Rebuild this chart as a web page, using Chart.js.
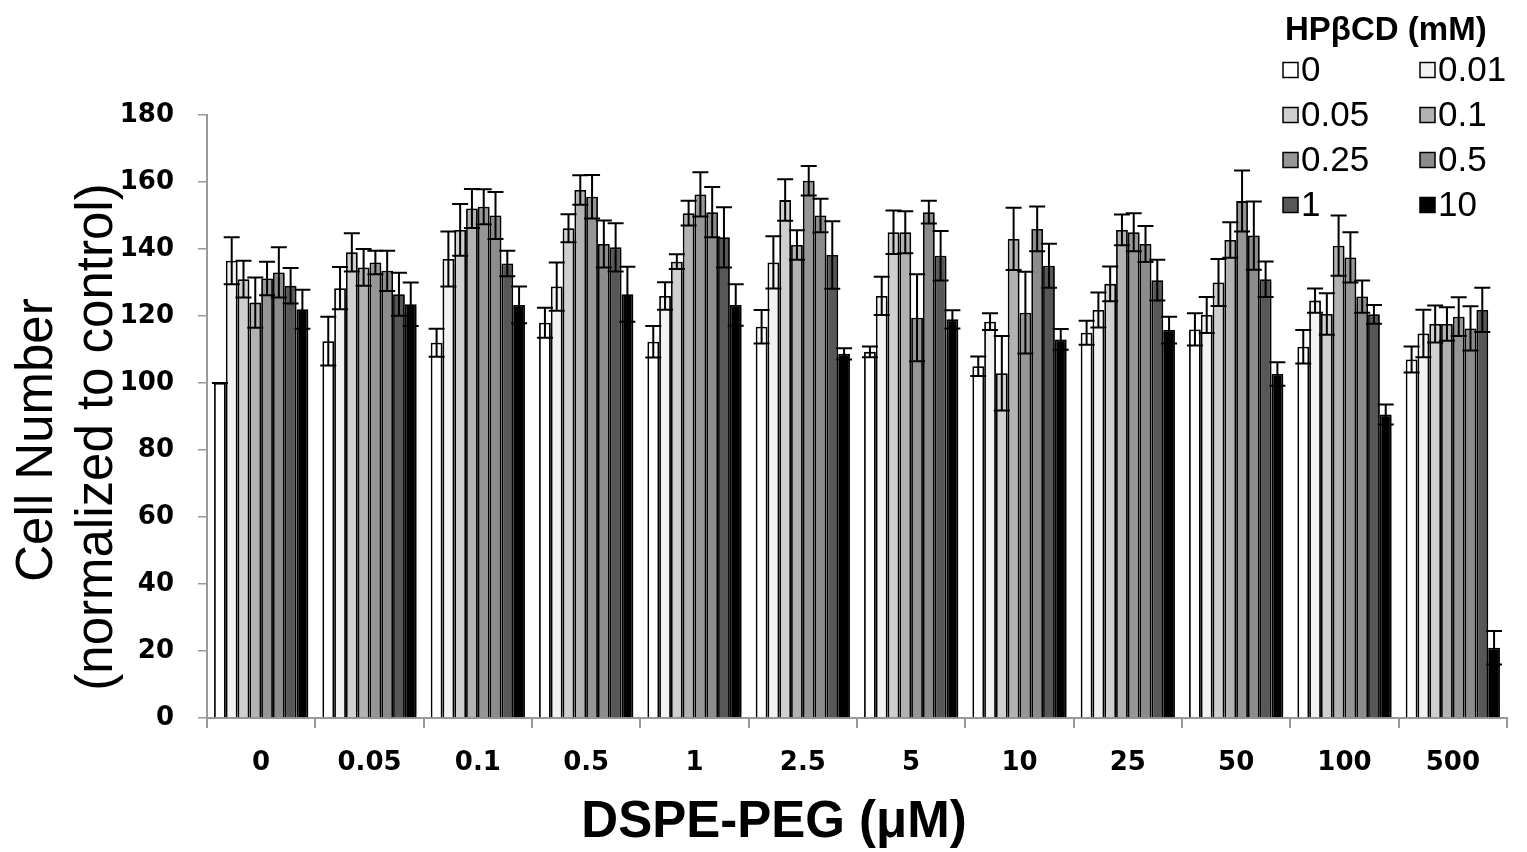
<!DOCTYPE html>
<html>
<head>
<meta charset="utf-8">
<script src="https://cdn.jsdelivr.net/npm/chart.js@4"></script>
<style>
html, body { margin: 0; padding: 0; background: #fff; }
#chart { display: block; }
</style>
</head>
<body>
<canvas id="chart" width="1527" height="852"></canvas>
<script>
// DSPE-PEG concentrations (uM)
const categories = ['0', '0.05', '0.1', '0.5', '1', '2.5', '5', '10', '25', '50', '100', '500'];
// HPbCD concentrations (mM)
const seriesLabels = ['0', '0.01', '0.05', '0.1', '0.25', '0.5', '1', '10'];
const seriesColors = ['#ffffff', '#f2f2f2', '#cfcfcf', '#b2b2b2', '#969696', '#8c8c8c', '#575757', '#000000'];

const hp0 = [100, 112.5, 112, 118, 112.3, 116.8, 109.3, 105, 115, 116, 110.8, 107];
const hp0Err = [0, 7.3, 4.2, 4.5, 4.7, 5, 1.6, 2.9, 3.6, 4.8, 5, 3.9];
const hp001 = [136.5, 128.3, 137, 128.8, 126, 136, 126, 118.3, 121.8, 120.3, 124.6, 114.8];
const hp001Err = [7, 6.3, 8.2, 7.2, 4.1, 7.8, 5.7, 2.5, 5.2, 5.4, 3.6, 7.1];
const hp005 = [131, 139, 145.7, 146.2, 136.2, 154.6, 145, 102.9, 129.6, 130, 120.6, 117.6];
const hp005Err = [5.5, 5.7, 7.7, 4.2, 2.2, 6.2, 6.5, 11.1, 5.2, 7, 6.2, 5.5];
const hp01 = [124, 134.5, 152.1, 157.6, 150.7, 141.2, 145, 143, 145.7, 142.7, 141, 117.6];
const hp01Err = [7.5, 5.5, 5.8, 4.4, 3.7, 4.4, 6.3, 9.3, 4.6, 5.3, 9, 5];
const hp025 = [131.2, 136, 152.6, 155.6, 156.3, 160.4, 119.5, 121, 145, 154.3, 137.5, 119.8];
const hp025Err = [5, 3.5, 5.2, 6.5, 6.6, 4.4, 13, 12.2, 5.7, 9.1, 7.5, 5.8];
const hp05 = [133, 133.5, 150, 141.5, 151, 150, 151, 146, 141.5, 144, 125.8, 116.3];
const hp05Err = [7.5, 6, 7, 7, 7.5, 5, 3.4, 6.7, 5.4, 10.2, 4.8, 6.6];
const hp1 = [129, 126.5, 135.7, 140.5, 143.5, 138.2, 138, 135, 130.7, 131, 120.5, 121.8];
const hp1Err = [5.3, 6.4, 3.8, 7.2, 9, 10.1, 7.4, 6.6, 6.1, 5.3, 2.8, 6.6];
const hp10 = [122, 123.5, 123.3, 126.5, 123.3, 108.7, 119, 113, 115.8, 102.7, 90.6, 21];
const hp10Err = [5.8, 6.5, 5.5, 8.2, 6.2, 1.7, 2.7, 3.1, 4, 3.5, 3, 5];

const yTicks = { min: 0, max: 180, step: 20 };
const xTitle = 'DSPE-PEG (μM)';
const yTitle = ['Cell Number', '(normalized to control)'];
const legendTitle = 'HPβCD (mM)';

const means = [hp0, hp001, hp005, hp01, hp025, hp05, hp1, hp10];
const errs = [hp0Err, hp001Err, hp005Err, hp01Err, hp025Err, hp05Err, hp1Err, hp10Err];

const datasets = seriesLabels.map((lab, i) => ({
  label: lab,
  data: means[i],
  errors: errs[i],
  backgroundColor: seriesColors[i],
  borderColor: '#000',
  borderWidth: 1.8,
  borderSkipped: 'start',
  categoryPercentage: 0.87,
  barPercentage: 1.0,
}));

const errorBars = {
  id: 'errorBars',
  beforeDatasetsDraw(chart) {
    const ctx = chart.ctx;
    ctx.save();
    ctx.shadowColor = 'rgba(0,0,0,0.35)';
    ctx.shadowBlur = 6;
    ctx.shadowOffsetX = 3;
    ctx.shadowOffsetY = 0;
  },
  afterDatasetsDraw(chart) {
    const ctx = chart.ctx;
    ctx.restore();
    const y = chart.scales.y;
    ctx.save();
    ctx.strokeStyle = '#000';
    ctx.lineWidth = 2;
    chart.data.datasets.forEach((ds, i) => {
      const meta = chart.getDatasetMeta(i);
      meta.data.forEach((bar, j) => {
        const v = ds.data[j];
        const e = ds.errors[j];
        const top = y.getPixelForValue(v + e);
        const bot = y.getPixelForValue(v - e);
        const x = bar.x;
        const half = 8;
        ctx.beginPath();
        ctx.moveTo(x, top); ctx.lineTo(x, bot);
        ctx.moveTo(x - half, top); ctx.lineTo(x + half, top);
        ctx.moveTo(x - half, bot); ctx.lineTo(x + half, bot);
        ctx.stroke();
      });
    });
    ctx.restore();
  }
};

// axis titles and the two-column legend
const labelsAndLegend = {
  id: 'labelsAndLegend',
  afterDraw(chart) {
    const ctx = chart.ctx;
    ctx.save();
    ctx.fillStyle = '#000';

    // x title
    ctx.textAlign = 'center';
    ctx.textBaseline = 'alphabetic';
    ctx.font = 'bold 51px "Liberation Sans", Arial, sans-serif';
    ctx.fillText(xTitle, 774, 837);

    // y title, two rotated lines
    ctx.font = '51px "Liberation Sans", Arial, sans-serif';
    [[52, 440], [112, 437]].forEach((p, k) => {
      ctx.save();
      ctx.translate(p[0], p[1]);
      ctx.rotate(-Math.PI / 2);
      ctx.fillText(yTitle[k], 0, 0);
      ctx.restore();
    });

    // legend
    ctx.textAlign = 'left';
    ctx.textBaseline = 'middle';
    ctx.font = 'bold 33px "Liberation Sans", Arial, sans-serif';
    ctx.fillText(legendTitle, 1285, 31);
    ctx.font = '35px "Liberation Sans", Arial, sans-serif';
    chart.data.datasets.forEach((ds, i) => {
      const col = i % 2;
      const row = Math.floor(i / 2);
      const bx = col ? 1420 : 1283;
      const cy = 70 + row * 45;
      ctx.fillStyle = ds.backgroundColor;
      ctx.fillRect(bx, cy - 7.5, 15, 15);
      ctx.strokeStyle = '#000';
      ctx.lineWidth = 1.5;
      ctx.strokeRect(bx, cy - 7.5, 15, 15);
      ctx.fillStyle = '#000';
      ctx.fillText(ds.label, bx + 18, cy + 1);
    });
    ctx.restore();
  }
};

new Chart(document.getElementById('chart'), {
  type: 'bar',
  data: { labels: categories, datasets: datasets },
  plugins: [errorBars, labelsAndLegend],
  options: {
    responsive: false,
    animation: false,
    devicePixelRatio: 1,
    layout: { padding: { top: 115, right: 20, bottom: 0, left: 0 } },
    plugins: { legend: { display: false }, tooltip: { enabled: false } },
    scales: {
      x: {
        grid: { offset: true, drawOnChartArea: false, tickLength: 10, color: '#999', lineWidth: 2 },
        border: { display: true, color: '#999', width: 2 },
        ticks: {
          color: '#000',
          padding: 20,
          maxRotation: 0,
          font: { family: '"DejaVu Sans"', weight: 'bold', size: 26 }
        },
        afterFit(scale) { scale.height = 134; }
      },
      y: {
        min: yTicks.min,
        max: yTicks.max,
        grid: { drawOnChartArea: false, tickLength: 9, color: '#999', lineWidth: 1.5 },
        border: { display: true, color: '#999', width: 2 },
        ticks: {
          stepSize: yTicks.step,
          color: '#000',
          padding: 24,
          font: { family: '"DejaVu Sans"', weight: 'bold', size: 26 }
        },
        afterFit(scale) { scale.width = 207; }
      }
    }
  }
});
</script>
</body>
</html>
